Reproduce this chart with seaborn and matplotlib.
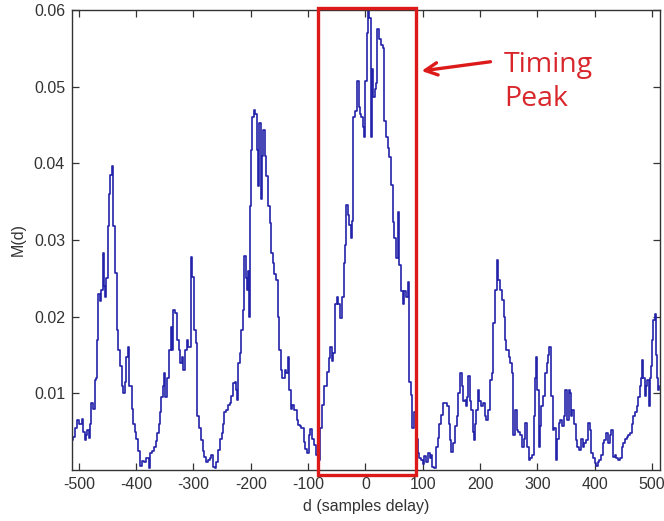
import matplotlib
matplotlib.use("Agg")
import matplotlib.pyplot as plt
import seaborn as sns
import pandas as pd
from matplotlib.patches import Rectangle

# ---- data ----
delay = [-512, -510, -506, -503, -499, -495, -492, -490, -487, -485, -482, -480, -478, -475, -472, -470,
         -468, -466, -463, -461, -458, -456, -455, -452, -450, -447, -445, -443, -440, -437, -434, -432,
         -428, -425, -423, -420, -417, -415, -412, -410, -407, -405, -402, -400, -397, -393, -390, -386,
         -382, -378, -375, -372, -369, -366, -363, -361, -359, -357, -354, -351, -349, -346, -343, -340,
         -337, -335, -332, -329, -326, -324, -320, -318, -315, -312, -309, -305, -302, -299, -296, -294,
         -293, -290, -287, -284, -281, -278, -275, -272, -269, -266, -263, -260, -257, -254, -251, -249,
         -246, -243, -240, -237, -234, -231, -228, -226, -224, -222, -219, -217, -214, -211, -209, -207,
         -205, -203, -202, -200, -198, -195, -193, -190, -188, -186, -185, -183, -181, -179, -176, -173,
         -170, -167, -164, -161, -159, -156, -153, -151, -148, -145, -141, -138, -135, -133, -130, -128,
         -125, -122, -120, -117, -114, -112, -108, -105, -102, -99, -96, -93, -90, -86, -82, -79,
         -76, -73, -70, -67, -64, -62, -59, -56, -53, -50, -47, -44, -41, -38, -36, -34,
         -31, -28, -25, -23, -21, -18, -15, -12, -9, -7, -5, -2, 0, 2, 5, 7,
         10, 12, 14, 16, 18, 21, 24, 27, 30, 33, 36, 39, 42, 45, 48, 50,
         53, 56, 59, 62, 65, 68, 71, 74, 76, 79, 82, 85, 88, 91, 94, 97,
         100, 103, 106, 109, 112, 115, 117, 120, 123, 126, 129, 132, 136, 139, 142, 145,
         148, 150, 153, 156, 159, 162, 165, 168, 170, 173, 175, 177, 179, 182, 185, 187,
         189, 191, 193, 196, 199, 202, 205, 208, 211, 214, 217, 220, 223, 226, 229, 232,
         235, 238, 241, 243, 246, 250, 253, 255, 258, 261, 264, 267, 270, 273, 276, 279,
         282, 285, 288, 291, 294, 296, 298, 300, 302, 304, 306, 310, 313, 316, 319, 321,
         324, 327, 329, 331, 333, 335, 337, 340, 343, 346, 349, 352, 355, 357, 359, 361,
         364, 367, 370, 373, 376, 379, 382, 385, 388, 391, 394, 397, 400, 403, 406, 408,
         411, 414, 417, 420, 423, 426, 429, 432, 435, 438, 441, 444, 447, 450, 453, 456,
         459, 462, 465, 467, 470, 473, 476, 479, 481, 483, 485, 487, 490, 492, 494, 496,
         498, 500, 502, 505, 507, 509, 511, 513]

m_values = [0.0039, 0.0043, 0.0055, 0.0065, 0.0060, 0.0066, 0.0050, 0.0039, 0.0045, 0.0052, 0.0042, 0.0060, 0.0087, 0.0080, 0.0118, 0.0120,
            0.0170, 0.0230, 0.0220, 0.0235, 0.0283, 0.0240, 0.0226, 0.0250, 0.0318, 0.0360, 0.0385, 0.0396, 0.0318, 0.0257, 0.0183, 0.0157,
            0.0135, 0.0110, 0.0100, 0.0115, 0.0148, 0.0160, 0.0109, 0.0110, 0.0080, 0.0060, 0.0050, 0.0040, 0.0025, 0.0005, 0.0012, 0.0010,
            0.0015, 0.0003, 0.0022, 0.0025, 0.0030, 0.0038, 0.0048, 0.0060, 0.0075, 0.0095, 0.0109, 0.0127, 0.0095, 0.0120, 0.0157, 0.0187,
            0.0157, 0.0209, 0.0205, 0.0170, 0.0157, 0.0140, 0.0148, 0.0131, 0.0157, 0.0170, 0.0160, 0.0278, 0.0252, 0.0183, 0.0166, 0.0114,
            0.0070, 0.0055, 0.0039, 0.0025, 0.0017, 0.0010, 0.0013, 0.0015, 0.0020, 0.0004, 0.0003, 0.0010, 0.0026, 0.0040, 0.0048, 0.0060,
            0.0076, 0.0078, 0.0085, 0.0087, 0.0096, 0.0113, 0.0115, 0.0104, 0.0091, 0.0140, 0.0153, 0.0183, 0.0209, 0.0279, 0.0250, 0.0235,
            0.0260, 0.0200, 0.0344, 0.0418, 0.0461, 0.0470, 0.0465, 0.0418, 0.0370, 0.0380, 0.0453, 0.0353, 0.0410, 0.0444, 0.0410, 0.0383,
            0.0344, 0.0322, 0.0283, 0.0270, 0.0255, 0.0248, 0.0200, 0.0157, 0.0131, 0.0120, 0.0131, 0.0127, 0.0148, 0.0104, 0.0080, 0.0085,
            0.0078, 0.0078, 0.0065, 0.0059, 0.0057, 0.0055, 0.0037, 0.0028, 0.0022, 0.0045, 0.0054, 0.0041, 0.0032, 0.0020, 0.0013, 0.0055,
            0.0085, 0.0110, 0.0109, 0.0128, 0.0146, 0.0160, 0.0142, 0.0153, 0.0216, 0.0225, 0.0216, 0.0198, 0.0225, 0.0270, 0.0294, 0.0346,
            0.0333, 0.0320, 0.0303, 0.0325, 0.0460, 0.0468, 0.0507, 0.0473, 0.0465, 0.0460, 0.0447, 0.0434, 0.0507, 0.0570, 0.0600, 0.0590,
            0.0434, 0.0523, 0.0486, 0.0497, 0.0505, 0.0575, 0.0562, 0.0555, 0.0550, 0.0455, 0.0434, 0.0420, 0.0408, 0.0372, 0.0324, 0.0303,
            0.0277, 0.0337, 0.0268, 0.0233, 0.0216, 0.0233, 0.0225, 0.0245, 0.0115, 0.0098, 0.0055, 0.0076, 0.0040, 0.0022, 0.0015, 0.0013,
            0.0008, 0.0018, 0.0010, 0.0022, 0.0015, 0.0020, 0.0004, 0.0003, 0.0030, 0.0042, 0.0060, 0.0072, 0.0087, 0.0087, 0.0083, 0.0060,
            0.0039, 0.0024, 0.0035, 0.0057, 0.0070, 0.0100, 0.0127, 0.0110, 0.0090, 0.0091, 0.0083, 0.0095, 0.0122, 0.0090, 0.0078, 0.0050,
            0.0039, 0.0060, 0.0078, 0.0104, 0.0090, 0.0083, 0.0087, 0.0070, 0.0065, 0.0078, 0.0118, 0.0126, 0.0192, 0.0235, 0.0274, 0.0248,
            0.0235, 0.0222, 0.0200, 0.0170, 0.0157, 0.0148, 0.0140, 0.0126, 0.0045, 0.0078, 0.0052, 0.0050, 0.0045, 0.0030, 0.0040, 0.0061,
            0.0030, 0.0013, 0.0015, 0.0020, 0.0070, 0.0120, 0.0148, 0.0104, 0.0030, 0.0057, 0.0083, 0.0096, 0.0127, 0.0140, 0.0150, 0.0161,
            0.0096, 0.0052, 0.0055, 0.0055, 0.0013, 0.0040, 0.0061, 0.0065, 0.0057, 0.0070, 0.0104, 0.0065, 0.0104, 0.0100, 0.0070, 0.0078,
            0.0060, 0.0039, 0.0030, 0.0026, 0.0040, 0.0030, 0.0035, 0.0039, 0.0061, 0.0052, 0.0022, 0.0015, 0.0009, 0.0005, 0.0010, 0.0013,
            0.0020, 0.0035, 0.0039, 0.0048, 0.0035, 0.0045, 0.0052, 0.0017, 0.0020, 0.0015, 0.0013, 0.0015, 0.0030, 0.0035, 0.0040, 0.0043,
            0.0045, 0.0048, 0.0060, 0.0070, 0.0075, 0.0083, 0.0095, 0.0109, 0.0120, 0.0144, 0.0120, 0.0096, 0.0110, 0.0118, 0.0083, 0.0120,
            0.0135, 0.0170, 0.0196, 0.0203, 0.0150, 0.0120, 0.0104, 0.0110]

x_ticks = [-500, -400, -300, -200, -100, 0, 100, 200, 300, 400, 500]
y_ticks = [0.01, 0.02, 0.03, 0.04, 0.05, 0.06]
peak_window = [-83, 88]
annotation_text = "Timing\nPeak"

df = pd.DataFrame({"d": delay, "M": m_values})

sns.set_style("ticks")
plt.rcParams["font.family"] = ["Liberation Sans", "DejaVu Sans"]

fig = plt.figure(figsize=(6.64, 5.21), dpi=100)
ax = fig.add_axes([0.1084, 0.0979, 0.8856, 0.8829])

sns.lineplot(data=df, x="d", y="M", ax=ax, color="#2222aa", linewidth=1.2,
             drawstyle="steps-post", estimator=None, sort=False)

ax.set_xlim(-512, 514)
ax.set_ylim(0, 0.06)
ax.set_xticks(x_ticks)
ax.set_yticks(y_ticks)
ax.set_xticklabels([str(t) for t in x_ticks])
ax.set_yticklabels([f"{t:.2f}" for t in y_ticks])
ax.tick_params(direction="in", length=5, width=0.9, top=True, right=True,
               labelsize=11.5, colors="#333333", labelcolor="#333333", pad=5)
for sp in ax.spines.values():
    sp.set_visible(True)
    sp.set_color("#333333")
    sp.set_linewidth(1.0)

ax.set_xlabel("d (samples delay)", fontsize=11.5, color="#333333", labelpad=5)
ax.set_ylabel("M(d)", fontsize=11.5, color="#333333", labelpad=6)

# red window around the timing peak
rect = Rectangle((peak_window[0], -0.0006), peak_window[1] - peak_window[0], 0.0608,
                 fill=False, edgecolor="#dd1a1a", linewidth=2.4, clip_on=False, zorder=5)
ax.add_patch(rect)

ax.annotate("", xy=(peak_window[1] + 5, 0.0520), xytext=(223, 0.0533),
            arrowprops=dict(arrowstyle="->", color="#dd1a1a", lw=2.4, mutation_scale=22))
ax.text(242, 0.0506, annotation_text, color="#d8262b", fontsize=20.5, family="Open Sans",
        ha="left", va="center", linespacing=1.3)

fig.savefig("out.png", dpi=100)
